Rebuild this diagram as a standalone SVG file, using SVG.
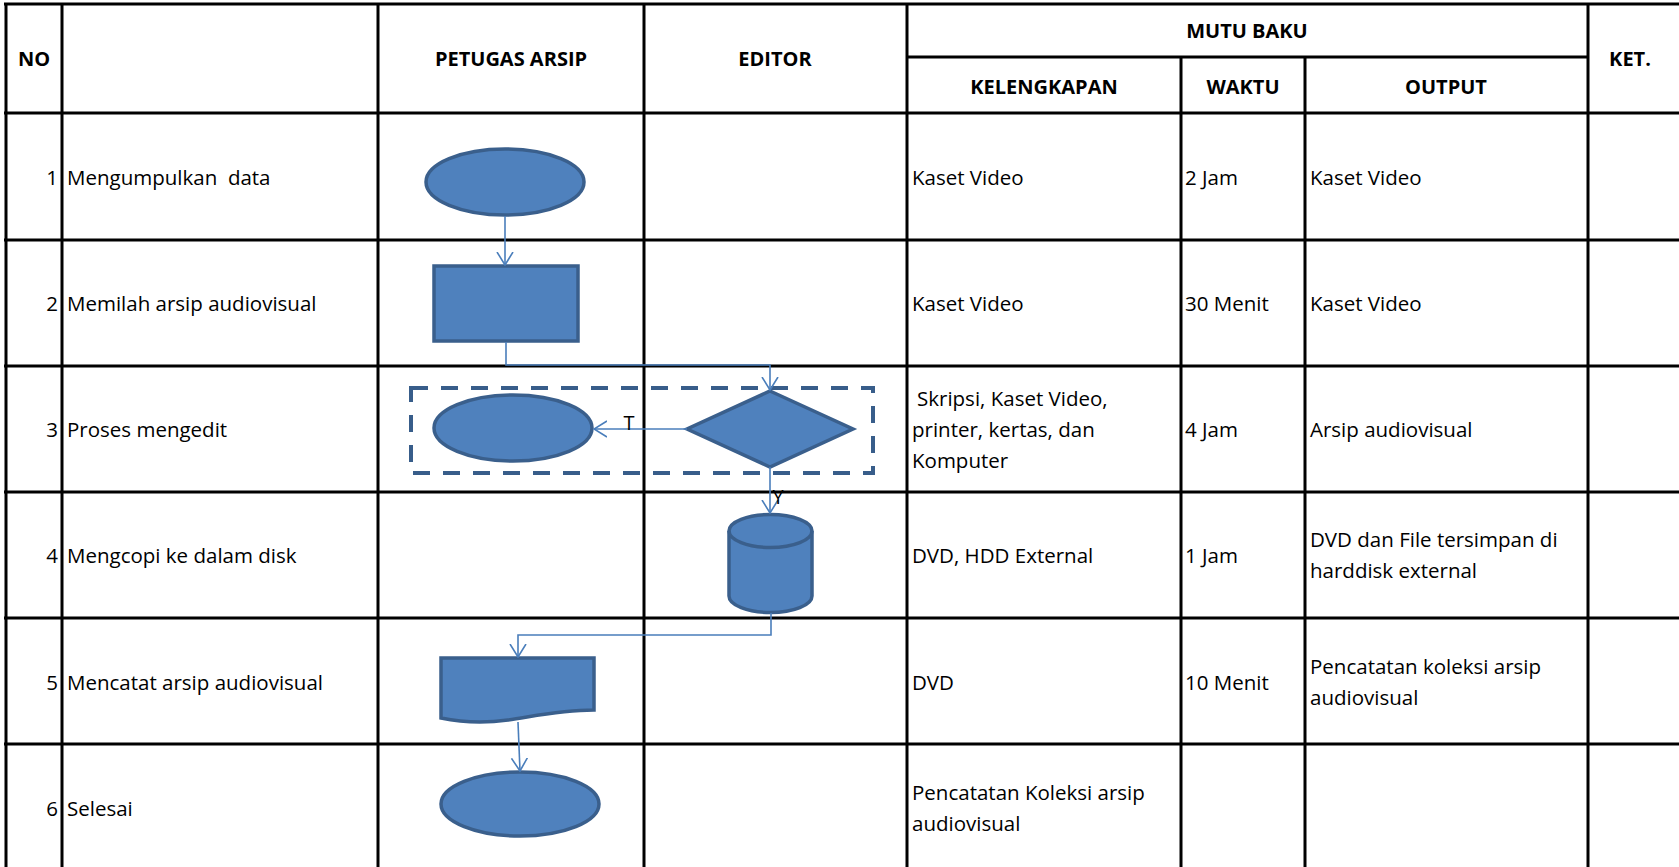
<svg xmlns="http://www.w3.org/2000/svg" width="1679" height="867" viewBox="0 0 1679 867">
<style>
.grid{stroke:#000;stroke-width:3;fill:none}
.t{font-family:"Open Sans","Liberation Sans",sans-serif;font-size:20.5px;fill:#000}
.h{font-family:"Open Sans","Liberation Sans",sans-serif;font-size:20px;font-weight:bold;fill:#000;text-anchor:middle}
.n{text-anchor:end}
.shape{fill:#4F81BD;stroke:#3A5F8C;stroke-width:3.5}
.conn{fill:none;stroke:#4A7EBB;stroke-width:1.6}
.lbl{font-family:"Open Sans","Liberation Sans",sans-serif;font-size:20px;fill:#000;text-anchor:middle}
</style>
<defs>
<marker id="arr" markerUnits="userSpaceOnUse" viewBox="0 0 14 18" refX="13" refY="9" markerWidth="14" markerHeight="18" orient="auto">
<path d="M0,1 L13,9 L0,17" fill="none" stroke="#4A7EBB" stroke-width="1.6"/>
</marker>
</defs>
<rect width="1679" height="867" fill="#fff"/>
<g id="table" class="grid">
<line x1="4" y1="4" x2="1679" y2="4"/>
<line x1="907" y1="57" x2="1588" y2="57"/>
<line x1="4" y1="113" x2="1679" y2="113"/>
<line x1="4" y1="240" x2="1679" y2="240"/>
<line x1="4" y1="366" x2="1679" y2="366"/>
<line x1="4" y1="492" x2="1679" y2="492"/>
<line x1="4" y1="618" x2="1679" y2="618"/>
<line x1="4" y1="744" x2="1679" y2="744"/>
<line x1="6" y1="3" x2="6" y2="867"/>
<line x1="62" y1="3" x2="62" y2="867"/>
<line x1="378" y1="3" x2="378" y2="867"/>
<line x1="644" y1="3" x2="644" y2="867"/>
<line x1="907" y1="3" x2="907" y2="867"/>
<line x1="1181" y1="57" x2="1181" y2="867"/>
<line x1="1305" y1="57" x2="1305" y2="867"/>
<line x1="1588" y1="3" x2="1588" y2="867"/>
</g>
<g id="headers">
<text class="h" x="34" y="66">NO</text>
<text class="h" x="511" y="66">PETUGAS ARSIP</text>
<text class="h" x="775" y="66">EDITOR</text>
<text class="h" x="1247" y="38">MUTU BAKU</text>
<text class="h" x="1044" y="94">KELENGKAPAN</text>
<text class="h" x="1243" y="94">WAKTU</text>
<text class="h" x="1446" y="94">OUTPUT</text>
<text class="h" x="1630" y="66">KET.</text>
</g>
<g id="row1">
<text class="t n" x="58" y="185">1</text>
<text class="t" x="67" y="185" xml:space="preserve">Mengumpulkan  data</text>
<text class="t" x="912" y="185">Kaset Video</text>
<text class="t" x="1185" y="185">2 Jam</text>
<text class="t" x="1310" y="185">Kaset Video</text>
</g>
<g id="row2">
<text class="t n" x="58" y="311">2</text>
<text class="t" x="67" y="311">Memilah arsip audiovisual</text>
<text class="t" x="912" y="311">Kaset Video</text>
<text class="t" x="1185" y="311">30 Menit</text>
<text class="t" x="1310" y="311">Kaset Video</text>
</g>
<g id="row3">
<text class="t n" x="58" y="437">3</text>
<text class="t" x="67" y="437">Proses mengedit</text>
<text class="t" x="917" y="406">Skripsi, Kaset Video,</text>
<text class="t" x="912" y="437">printer, kertas, dan</text>
<text class="t" x="912" y="468">Komputer</text>
<text class="t" x="1185" y="437">4 Jam</text>
<text class="t" x="1310" y="437">Arsip audiovisual</text>
</g>
<g id="row4">
<text class="t n" x="58" y="563">4</text>
<text class="t" x="67" y="563">Mengcopi ke dalam disk</text>
<text class="t" x="912" y="563">DVD, HDD External</text>
<text class="t" x="1185" y="563">1 Jam</text>
<text class="t" x="1310" y="547">DVD dan File tersimpan di</text>
<text class="t" x="1310" y="578">harddisk external</text>
</g>
<g id="row5">
<text class="t n" x="58" y="690">5</text>
<text class="t" x="67" y="690">Mencatat arsip audiovisual</text>
<text class="t" x="912" y="690">DVD</text>
<text class="t" x="1185" y="690">10 Menit</text>
<text class="t" x="1310" y="674">Pencatatan koleksi arsip</text>
<text class="t" x="1310" y="705">audiovisual</text>
</g>
<g id="row6">
<text class="t n" x="58" y="816">6</text>
<text class="t" x="67" y="816">Selesai</text>
<text class="t" x="912" y="800">Pencatatan Koleksi arsip</text>
<text class="t" x="912" y="831">audiovisual</text>
</g>
<g id="group-box">
<rect x="411" y="388" width="462" height="85" fill="none" stroke="#385D8A" stroke-width="4" stroke-dasharray="17 13"/>
</g>
<g id="start">
<ellipse class="shape" cx="505" cy="182" rx="79" ry="33"/>
</g>
<g id="sort">
<rect class="shape" x="434" y="266" width="144" height="75"/>
</g>
<g id="decision">
<polygon class="shape" points="770,391 853,429 770,467 687,429"/>
</g>
<g id="reject-end">
<ellipse class="shape" cx="513" cy="428" rx="79" ry="33"/>
</g>
<g id="disk">
<path class="shape" d="M729,531 A41.5,16.5 0 0 1 812,531 V596 A41.5,16.5 0 0 1 729,596 Z"/>
<path d="M729,531 A41.5,16.5 0 0 0 812,531" fill="none" stroke="#3A5F8C" stroke-width="3.5"/>
</g>
<g id="document">
<path class="shape" d="M441,658 H594 V710 C560,710 535,716 508,720 C480,724 460,722 441,718 Z"/>
</g>
<g id="end">
<ellipse class="shape" cx="520" cy="804" rx="79" ry="32"/>
</g>
<g id="connectors">
<path class="conn" d="M505,216 V265" marker-end="url(#arr)"/>
<path class="conn" d="M506,342 V365 H770 V390" marker-end="url(#arr)"/>
<path class="conn" d="M687,429 H594" marker-end="url(#arr)"/>
<path class="conn" d="M770,467 V513" marker-end="url(#arr)"/>
<path class="conn" d="M771,613 V635 H518 V657" marker-end="url(#arr)"/>
<path class="conn" d="M518,722 L520,771" marker-end="url(#arr)"/>
<text class="lbl" x="629" y="430">T</text>
<text class="lbl" x="778" y="504">Y</text>
</g>
</svg>
